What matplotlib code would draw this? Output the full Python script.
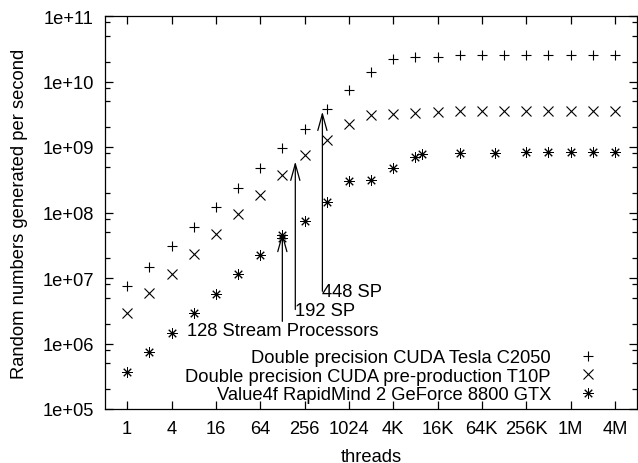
import numpy as np
import matplotlib
matplotlib.use('Agg')
import matplotlib.pyplot as plt
from matplotlib.ticker import FixedLocator, NullLocator

plt.rcParams['font.family'] = ['Liberation Sans', 'DejaVu Sans']
plt.rcParams['font.size'] = 13.2

# data
threads = [1, 2, 4, 8, 16, 32, 64, 128, 256, 512, 1024, 2048, 4096, 8192, 16384,
           32768, 65536, 131072, 262144, 524288, 1048576, 2097152, 4194304]
tesla_c2050 = [7.55e6, 1.49e7, 3.05e7, 6.1e7, 1.2e8, 2.4e8, 4.78e8, 9.55e8, 1.88e9,
               3.8e9, 7.5e9, 1.42e10, 2.24e10, 2.34e10, 2.33e10, 2.54e10, 2.52e10,
               2.53e10, 2.53e10, 2.53e10, 2.53e10, 2.53e10, 2.53e10]
t10p = [2.96e6, 5.9e6, 1.17e7, 2.36e7, 4.77e7, 9.5e7, 1.88e8, 3.74e8, 7.46e8, 1.28e9,
        2.22e9, 3.05e9, 3.19e9, 3.35e9, 3.47e9, 3.55e9, 3.55e9, 3.55e9, 3.55e9,
        3.55e9, 3.55e9, 3.55e9, 3.55e9]
rm_threads = [1, 2, 4, 8, 16, 32, 64, 128, 128, 256, 512, 1024, 2048, 4096, 8192, 10240,
              32768, 100000, 262144, 524288, 1048576, 2097152, 4194304]
rapidmind = [3.63e5, 7.3e5, 1.45e6, 2.89e6, 5.78e6, 1.14e7, 2.27e7, 4.57e7, 4.04e7,
             7.4e7, 1.47e8, 3.03e8, 3.18e8, 4.78e8, 7.13e8, 7.8e8, 8.2e8, 8.2e8,
             8.5e8, 8.5e8, 8.4e8, 8.5e8, 8.5e8]
series_labels = ['Double precision CUDA Tesla C2050',
                 'Double precision CUDA pre-production T10P',
                 'Value4f RapidMind 2 GeForce 8800 GTX']

xtick_vals = [1, 4, 16, 64, 256, 1024, 4096, 16384, 65536, 262144, 1048576, 4194304]
xtick_labels = ['1', '4', '16', '64', '256', '1024', '4K', '16K', '64K', '256K', '1M', '4M']
ytick_vals = [1e5, 1e6, 1e7, 1e8, 1e9, 1e10, 1e11]
ytick_labels = ['1e+05', '1e+06', '1e+07', '1e+08', '1e+09', '1e+10', '1e+11']

# arrows marking stream processor counts
sp_counts = [128, 192, 448]
sp_labels = ['128 Stream Processors', '192 SP', '448 SP']
arrow_base = [2.18e6, 3.3e6, 6.27e6]
arrow_tip = [4.9e7, 6.0e8, 3.47e9]
label_y = [1.6e6, 3.2e6, 6.2e6]
label_ha = ['center', 'left', 'left']

fig = plt.figure(figsize=(6.38, 4.64), dpi=100)
ax = fig.add_axes([105/638, 1 - 410/464, (637-105)/638, (410-17)/464])

ax.plot(threads, tesla_c2050, linestyle='none', marker='+', ms=7, mew=0.8,
        color='black', label=series_labels[0])
ax.plot(threads, t10p, linestyle='none', marker='x', ms=6.5, mew=0.8,
        color='black', label=series_labels[1])
ax.plot(rm_threads, rapidmind, linestyle='none', marker=(8, 2, 0), ms=7.5, mew=0.7,
        color='black', label=series_labels[2])

for x, y0, y1, txt, ly, ha in zip(sp_counts, arrow_base, arrow_tip, sp_labels, label_y, label_ha):
    ax.annotate('', xy=(x, y1), xytext=(x, y0),
                arrowprops=dict(arrowstyle='->,head_length=0.9,head_width=0.25',
                                color='black', lw=0.9, shrinkA=0, shrinkB=0))
    ax.text(x, ly, txt, ha=ha, va='center')

ax.set_xscale('log')
ax.set_yscale('log')
ax.set_xlim(0.5, 8388608)
ax.set_ylim(1e5, 1e11)

ax.xaxis.set_major_locator(FixedLocator(xtick_vals))
ax.set_xticklabels(xtick_labels)
ax.xaxis.set_minor_locator(NullLocator())
ax.yaxis.set_major_locator(FixedLocator(ytick_vals))
ax.set_yticklabels(ytick_labels)
yminor = [m * 10.0**k for k in range(5, 11) for m in (2, 5, 8)]
ax.yaxis.set_minor_locator(FixedLocator(yminor))

ax.tick_params(which='both', direction='in', top=True, right=True, width=0.9)
ax.tick_params(which='major', length=6, pad=8)
ax.tick_params(which='minor', length=3.5)
for s in ax.spines.values():
    s.set_linewidth(0.9)

ax.set_xlabel('threads', labelpad=7.5)
ax.set_ylabel('Random numbers generated per second', labelpad=10)

ax.legend(loc='lower right', bbox_to_anchor=(0.9417, 0.015), frameon=False,
          markerfirst=False, handlelength=2.0, handletextpad=1.0,
          borderpad=0, borderaxespad=0, labelspacing=0.08)

fig.savefig('out.png', dpi=100)
